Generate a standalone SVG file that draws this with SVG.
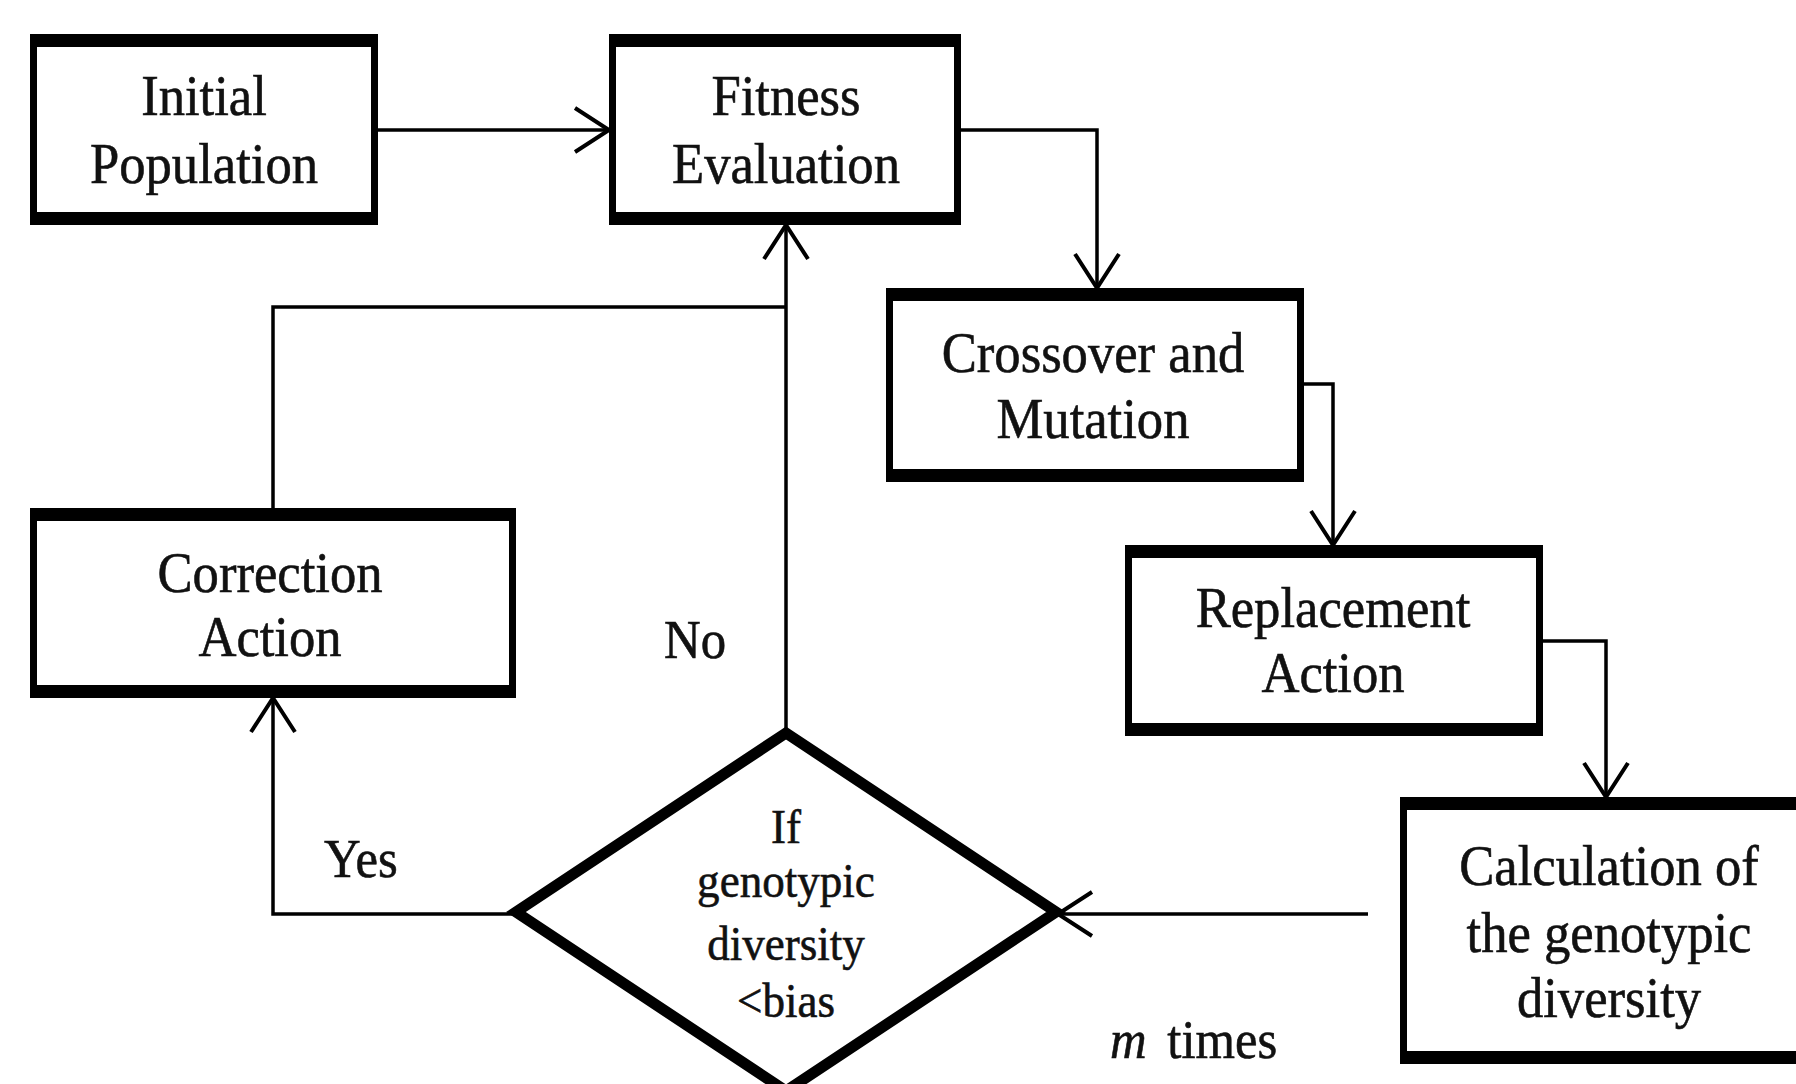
<svg xmlns="http://www.w3.org/2000/svg" width="1796" height="1084" viewBox="0 0 1796 1084">
<defs>
<style>
.box{fill:#fff;stroke:#000;stroke-width:7}
.bar{fill:#000}
.con{fill:none;stroke:#000;stroke-width:3.5}
.t{font-family:"Liberation Serif","Times New Roman",serif;font-size:56px;fill:#111;stroke:#111;stroke-width:0.6;text-anchor:middle}
.d{font-family:"Liberation Serif","Times New Roman",serif;font-size:49px;fill:#111;stroke:#111;stroke-width:0.6;text-anchor:middle}
.l{font-family:"Liberation Serif","Times New Roman",serif;font-size:54px;fill:#111;stroke:#111;stroke-width:0.6}
</style>
<marker id="ah" markerUnits="userSpaceOnUse" markerWidth="44" markerHeight="52" refX="36" refY="24" orient="auto">
<path d="M2,2 L36,24 L2,46" fill="none" stroke="#000" stroke-width="4"/>
</marker>
</defs>
<rect width="1796" height="1084" fill="#fff"/>
<g id="connectors">
<path class="con" d="M378,130 H609" marker-end="url(#ah)"/>
<path class="con" d="M961,130 H1097 V288" marker-end="url(#ah)"/>
<path class="con" d="M1304,384 H1333 V545" marker-end="url(#ah)"/>
<path class="con" d="M1543,641 H1606 V797" marker-end="url(#ah)"/>
<path class="con" d="M1368,914 H1058" marker-end="url(#ah)"/>
<path class="con" d="M786,730 V225" marker-end="url(#ah)"/>
<path class="con" d="M786,307 H273 V508"/>
<path class="con" d="M513,914 H273 V698" marker-end="url(#ah)"/>
</g>
<g id="initial">
<rect class="box" x="33.5" y="37.5" width="341" height="184"/>
<rect class="bar" x="30" y="34" width="348" height="13"/>
<rect class="bar" x="30" y="212" width="348" height="13"/>
<text class="t" transform="translate(204,115) scale(0.94,1)">Initial</text>
<text class="t" transform="translate(204,183) scale(0.94,1)">Population</text>
</g>
<g id="fitness">
<rect class="box" x="612.5" y="37.5" width="345" height="184"/>
<rect class="bar" x="609" y="34" width="352" height="13"/>
<rect class="bar" x="609" y="212" width="352" height="13"/>
<text class="t" transform="translate(786,115) scale(0.94,1)">Fitness</text>
<text class="t" transform="translate(786,183) scale(0.94,1)">Evaluation</text>
</g>
<g id="crossover">
<rect class="box" x="889.5" y="291.5" width="411" height="187"/>
<rect class="bar" x="886" y="288" width="418" height="13"/>
<rect class="bar" x="886" y="469" width="418" height="13"/>
<text class="t" transform="translate(1093,372) scale(0.94,1)">Crossover and</text>
<text class="t" transform="translate(1093,438) scale(0.94,1)">Mutation</text>
</g>
<g id="replacement">
<rect class="box" x="1128.5" y="548.5" width="411" height="184"/>
<rect class="bar" x="1125" y="545" width="418" height="13"/>
<rect class="bar" x="1125" y="723" width="418" height="13"/>
<text class="t" transform="translate(1333,627) scale(0.94,1)">Replacement</text>
<text class="t" transform="translate(1333,692) scale(0.94,1)">Action</text>
</g>
<g id="correction">
<rect class="box" x="33.5" y="511.5" width="479" height="183"/>
<rect class="bar" x="30" y="508" width="486" height="13"/>
<rect class="bar" x="30" y="685" width="486" height="13"/>
<text class="t" transform="translate(270,592) scale(0.94,1)">Correction</text>
<text class="t" transform="translate(270,656) scale(0.94,1)">Action</text>
</g>
<g id="calculation">
<rect class="box" x="1403.5" y="800.5" width="420" height="260"/>
<rect class="bar" x="1400" y="797" width="400" height="13"/>
<rect class="bar" x="1400" y="1051" width="400" height="13"/>
<text class="t" transform="translate(1609,885) scale(0.94,1)">Calculation of</text>
<text class="t" transform="translate(1609,952) scale(0.94,1)">the genotypic</text>
<text class="t" transform="translate(1609,1017) scale(0.94,1)">diversity</text>
</g>
<g id="decision">
<polygon points="786,733 1056,912 786,1091 516,912" fill="#fff" stroke="#000" stroke-width="11" stroke-linejoin="miter"/>
<text class="d" transform="translate(786,843) scale(0.92,1)">If</text>
<text class="d" transform="translate(786,897) scale(0.92,1)">genotypic</text>
<text class="d" transform="translate(786,960) scale(0.92,1)">diversity</text>
<text class="d" transform="translate(786,1017) scale(0.92,1)">&lt;bias</text>
</g>
<g id="labels">
<text class="l" transform="translate(664,658) scale(0.94,1)">No</text>
<text class="l" transform="translate(324,877) scale(0.94,1)">Yes</text>
<text class="l" transform="translate(1110,1058) scale(0.94,1)"><tspan font-style="italic">m</tspan><tspan dx="22">times</tspan></text>
</g>
</svg>
